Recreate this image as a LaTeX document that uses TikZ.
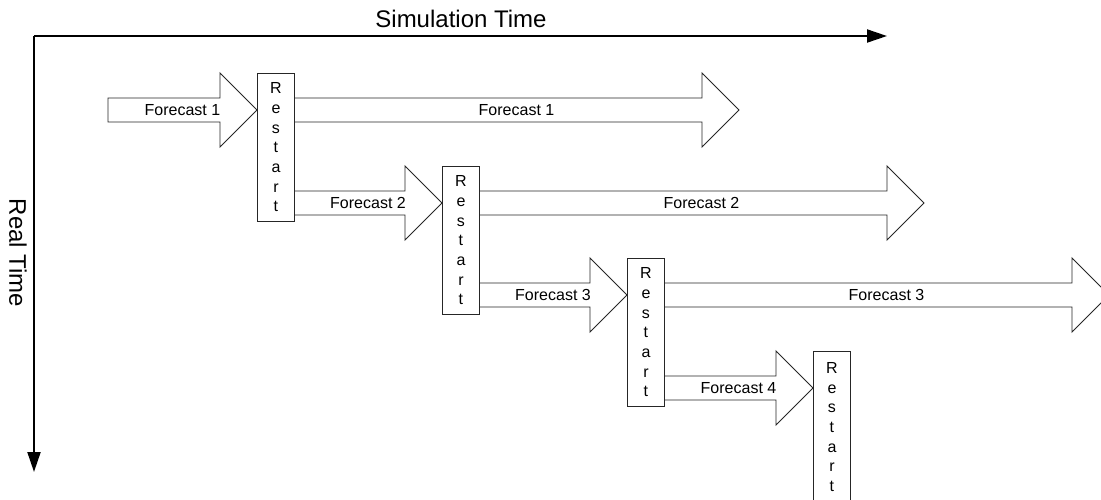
\documentclass[tikz,border=0pt]{standalone}
\usepackage{fontspec}
\setmainfont{Liberation Sans}
\usetikzlibrary{arrows.meta}
\begin{document}
\begin{tikzpicture}[x=1pt,y=-1pt,
  restartbox/.style={draw=black!85,line width=0.9pt,fill=white,minimum width=37pt,minimum height=148pt,inner sep=0pt,align=center,font=\fontsize{16}{19.7}\selectfont,anchor=north west},
  blockarrow/.style={draw=black!85,line width=0.9pt,fill=white,line join=miter},
  lbl/.style={font=\fontsize{16}{19.2}\selectfont,inner sep=0pt},
  axislabel/.style={font=\fontsize{24}{28}\selectfont,inner sep=0pt},
  axis/.style={line width=2pt,-{Triangle[length=20pt,width=13pt]}}]
\useasboundingbox (0,0) rectangle (1101,499);
\clip (0,0) rectangle (1101,499);

% axes
\coordinate (O) at (34,36);
\coordinate (X) at (887,36);
\coordinate (Y) at (34,472);
\draw[axis] (O) -- (X);
\draw[axis] (O) -- (Y);
\node[axislabel,anchor=base] (simt) at (461,27) {Simulation Time};
\node[axislabel,rotate=-90] (realt) at (18,253) {Real Time};

% block arrows
\draw[blockarrow] (108,98) -- (220,98) -- (220,73) -- (257,110) -- (220,147) -- (220,122) -- (108,122) -- cycle;
\node[lbl] (s1) at (182.5,110) {Forecast 1};
\draw[blockarrow] (294,98) -- (702,98) -- (702,73) -- (739,110) -- (702,147) -- (702,122) -- (294,122) -- cycle;
\node[lbl] (b1) at (516.5,110) {Forecast 1};

\draw[blockarrow] (294,191) -- (405,191) -- (405,166) -- (442,203) -- (405,240) -- (405,215) -- (294,215) -- cycle;
\node[lbl] (s2) at (368,203) {Forecast 2};
\draw[blockarrow] (479,191) -- (887,191) -- (887,166) -- (924,203) -- (887,240) -- (887,215) -- (479,215) -- cycle;
\node[lbl] (b2) at (701.5,203) {Forecast 2};

\draw[blockarrow] (479,283) -- (590,283) -- (590,258) -- (627,295) -- (590,332) -- (590,307) -- (479,307) -- cycle;
\node[lbl] (s3) at (553,295) {Forecast 3};
\draw[blockarrow] (664,283) -- (1072,283) -- (1072,258) -- (1109,295) -- (1072,332) -- (1072,307) -- (664,307) -- cycle;
\node[lbl] (b3) at (886.5,295) {Forecast 3};

\draw[blockarrow] (664,376) -- (776,376) -- (776,351) -- (813,388) -- (776,425) -- (776,400) -- (664,400) -- cycle;
\node[lbl] (s4) at (738.5,388) {Forecast 4};

% restart boxes
\node[restartbox] (r1) at (257,73) {R\\e\\s\\t\\a\\r\\t};
\node[restartbox] (r2) at (442,166) {R\\e\\s\\t\\a\\r\\t};
\node[restartbox] (r3) at (627,258) {R\\e\\s\\t\\a\\r\\t};
\node[restartbox,minimum height=151pt] (r4) at (813,351) {R\\e\\s\\t\\a\\r\\t};
\end{tikzpicture}
\end{document}
